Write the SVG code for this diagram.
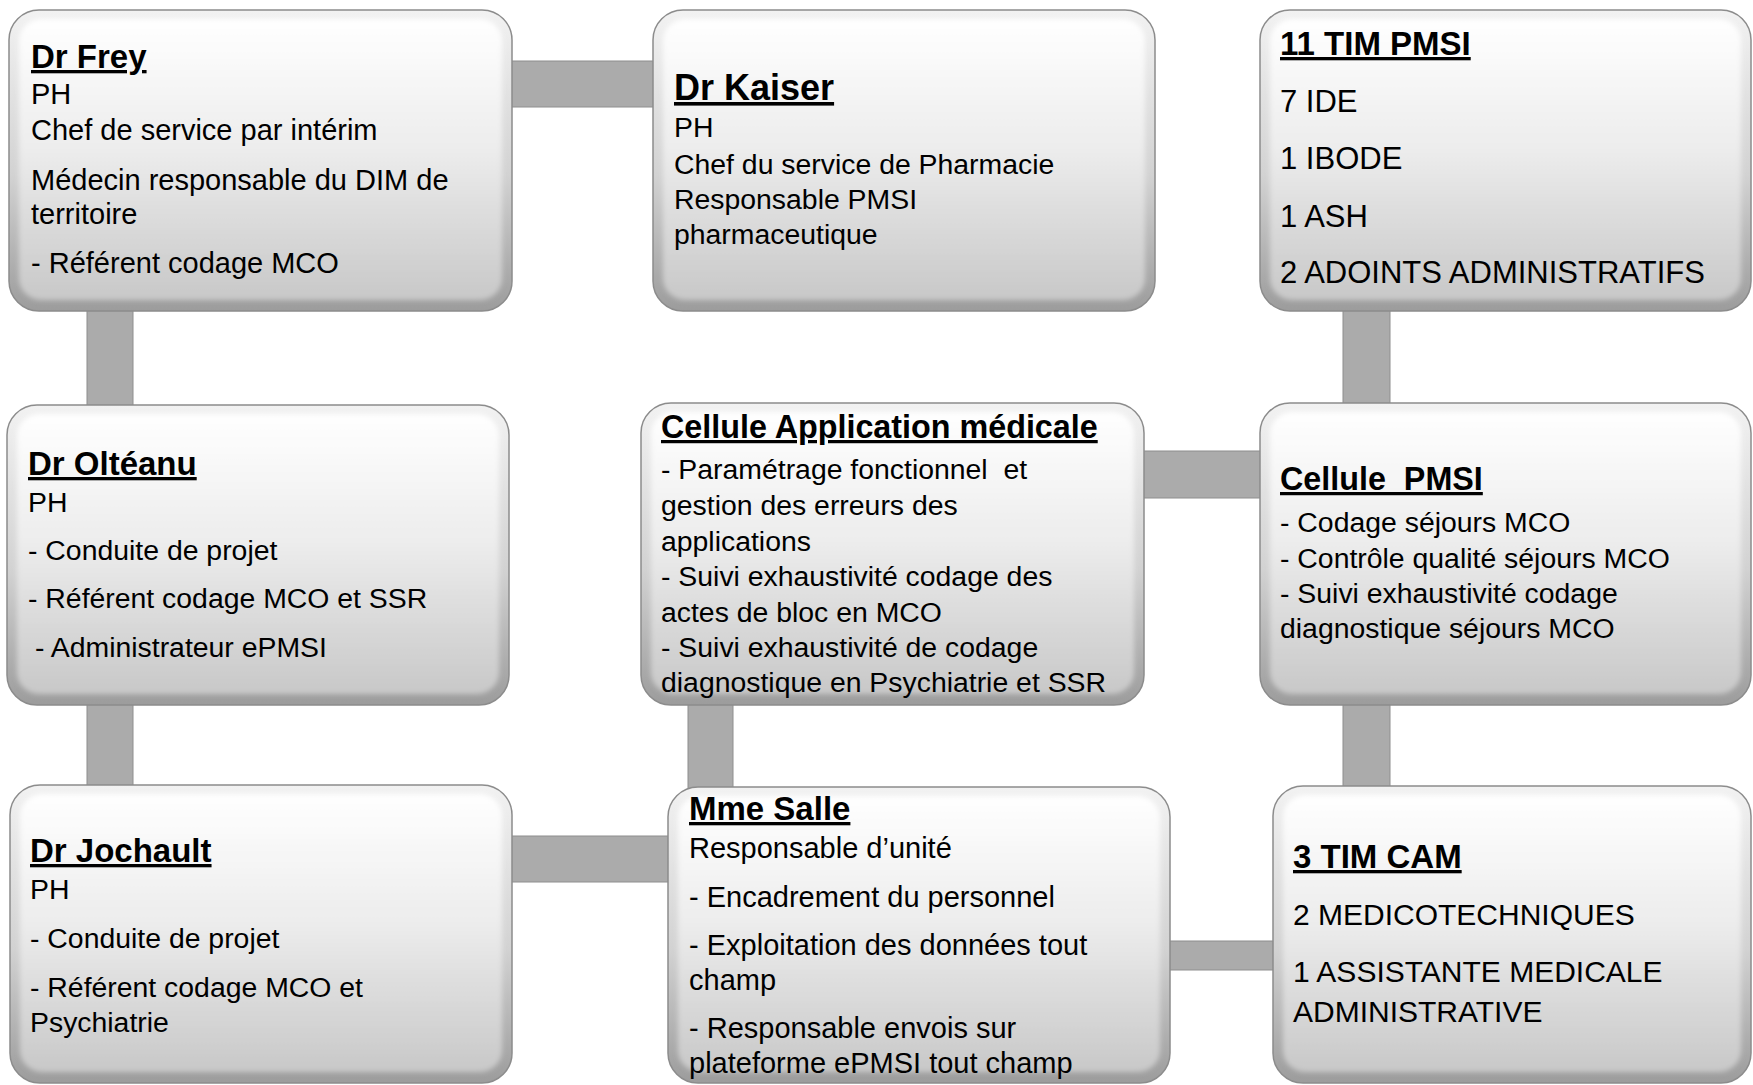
<svg xmlns="http://www.w3.org/2000/svg" width="1753" height="1085" viewBox="0 0 1753 1085">
<style>
.t{font-family:"Liberation Sans",Arial,sans-serif;font-size:29px;fill:#000;white-space:pre}
.s{font-size:28.4px}
.b{font-size:31px}
.h{font-weight:bold;font-size:33px;text-decoration:underline}
.hk{font-size:36px}
.ha{font-size:32.3px}
.rim{fill:url(#rim);stroke:#8c8c8c;stroke-width:1.5}
.face{fill:url(#face);filter:url(#soft)}
.con{fill:#ababab;stroke:#8e8e8e;stroke-width:1}
</style>
<defs>
<linearGradient id="rim" x1="0" y1="0" x2="0" y2="1">
<stop offset="0" stop-color="#f2f2f2"/>
<stop offset="0.55" stop-color="#d2d2d2"/>
<stop offset="1" stop-color="#9c9c9c"/>
</linearGradient>
<linearGradient id="face" x1="0" y1="0" x2="0" y2="1">
<stop offset="0" stop-color="#ffffff"/>
<stop offset="0.45" stop-color="#ededed"/>
<stop offset="1" stop-color="#c8c8c8"/>
</linearGradient>
<filter id="soft" x="-5%" y="-5%" width="110%" height="110%">
<feGaussianBlur stdDeviation="2.5"/>
</filter>
</defs>

<g id="connectors">
<rect class="con" x="510" y="61" width="145" height="46"/>
<rect class="con" x="87" y="309" width="46" height="98"/>
<rect class="con" x="87" y="703" width="46" height="84"/>
<rect class="con" x="1142" y="451" width="120" height="47"/>
<rect class="con" x="1343" y="309" width="47" height="96"/>
<rect class="con" x="1343" y="703" width="47" height="85"/>
<rect class="con" x="688" y="703" width="45" height="86"/>
<rect class="con" x="510" y="836" width="160" height="46"/>
<rect class="con" x="1168" y="941" width="107" height="29"/>
</g>

<g id="frey">
<rect class="rim" x="9" y="10" width="503" height="301" rx="30"/>
<rect class="face" x="19" y="19" width="483" height="281" rx="22"/>
<text class="t h" x="31" y="68">Dr Frey</text>
<text class="t" x="31" y="104">PH</text>
<text class="t" x="31" y="140">Chef de service par intérim</text>
<text class="t" x="31" y="190">Médecin responsable du DIM de</text>
<text class="t" x="31" y="224">territoire</text>
<text class="t" x="31" y="273">- Référent codage MCO</text>
</g>

<g id="kaiser">
<rect class="rim" x="653" y="10" width="502" height="301" rx="30"/>
<rect class="face" x="663" y="19" width="482" height="281" rx="22"/>
<text class="t h hk" x="674" y="100">Dr Kaiser</text>
<text class="t s" x="674" y="137">PH</text>
<text class="t s" x="674" y="174">Chef du service de Pharmacie</text>
<text class="t s" x="674" y="209">Responsable PMSI</text>
<text class="t s" x="674" y="244">pharmaceutique</text>
</g>

<g id="tim-pmsi">
<rect class="rim" x="1260" y="10" width="491" height="301" rx="30"/>
<rect class="face" x="1270" y="19" width="471" height="281" rx="22"/>
<text class="t h" x="1280" y="55">11 TIM PMSI</text>
<text class="t b" x="1280" y="112">7 IDE</text>
<text class="t b" x="1280" y="169">1 IBODE</text>
<text class="t b" x="1280" y="227">1 ASH</text>
<text class="t b" x="1280" y="283">2 ADOINTS ADMINISTRATIFS</text>
</g>

<g id="olteanu">
<rect class="rim" x="7" y="405" width="502" height="300" rx="30"/>
<rect class="face" x="17" y="414" width="482" height="280" rx="22"/>
<text class="t h" x="28" y="475">Dr Oltéanu</text>
<text class="t s" x="28" y="512">PH</text>
<text class="t s" x="28" y="560">- Conduite de projet</text>
<text class="t s" x="28" y="608">- Référent codage MCO et SSR</text>
<text class="t s" x="35" y="657">- Administrateur ePMSI</text>
</g>

<g id="cellule-app">
<rect class="rim" x="641" y="403" width="503" height="302" rx="30"/>
<rect class="face" x="651" y="412" width="483" height="282" rx="22"/>
<text class="t h ha" x="661" y="438">Cellule Application médicale</text>
<text class="t s" x="661" y="479">- Paramétrage fonctionnel  et</text>
<text class="t s" x="661" y="515">gestion des erreurs des</text>
<text class="t s" x="661" y="551">applications</text>
<text class="t s" x="661" y="586">- Suivi exhaustivité codage des</text>
<text class="t s" x="661" y="622">actes de bloc en MCO</text>
<text class="t s" x="661" y="657">- Suivi exhaustivité de codage</text>
<text class="t s" x="661" y="692">diagnostique en Psychiatrie et SSR</text>
</g>

<g id="cellule-pmsi">
<rect class="rim" x="1260" y="403" width="491" height="302" rx="30"/>
<rect class="face" x="1270" y="412" width="471" height="282" rx="22"/>
<text class="t h ha" x="1280" y="490">Cellule  PMSI</text>
<text class="t s" x="1280" y="532">- Codage séjours MCO</text>
<text class="t s" x="1280" y="568">- Contrôle qualité séjours MCO</text>
<text class="t s" x="1280" y="603">- Suivi exhaustivité codage</text>
<text class="t s" x="1280" y="638">diagnostique séjours MCO</text>
</g>

<g id="jochault">
<rect class="rim" x="10" y="785" width="502" height="298" rx="30"/>
<rect class="face" x="20" y="794" width="482" height="278" rx="22"/>
<text class="t h" x="30" y="862">Dr Jochault</text>
<text class="t s" x="30" y="899">PH</text>
<text class="t s" x="30" y="948">- Conduite de projet</text>
<text class="t s" x="30" y="997">- Référent codage MCO et</text>
<text class="t s" x="30" y="1032">Psychiatrie</text>
</g>

<g id="salle">
<rect class="rim" x="668" y="787" width="502" height="296" rx="30"/>
<rect class="face" x="678" y="796" width="482" height="276" rx="22"/>
<text class="t h" x="689" y="820">Mme Salle</text>
<text class="t" x="689" y="858">Responsable d’unité</text>
<text class="t" x="689" y="907">- Encadrement du personnel</text>
<text class="t" x="689" y="955">- Exploitation des données tout</text>
<text class="t" x="689" y="990">champ</text>
<text class="t" x="689" y="1038">- Responsable envois sur</text>
<text class="t" x="689" y="1073">plateforme ePMSI tout champ</text>
</g>

<g id="tim-cam">
<rect class="rim" x="1273" y="786" width="478" height="297" rx="30"/>
<rect class="face" x="1283" y="795" width="458" height="277" rx="22"/>
<text class="t h" x="1293" y="868">3 TIM CAM</text>
<text class="t" x="1293" y="925" style="font-size:30px">2 MEDICOTECHNIQUES</text>
<text class="t" x="1293" y="982" style="font-size:30px">1 ASSISTANTE MEDICALE</text>
<text class="t" x="1293" y="1022" style="font-size:30px">ADMINISTRATIVE</text>
</g>
</svg>
